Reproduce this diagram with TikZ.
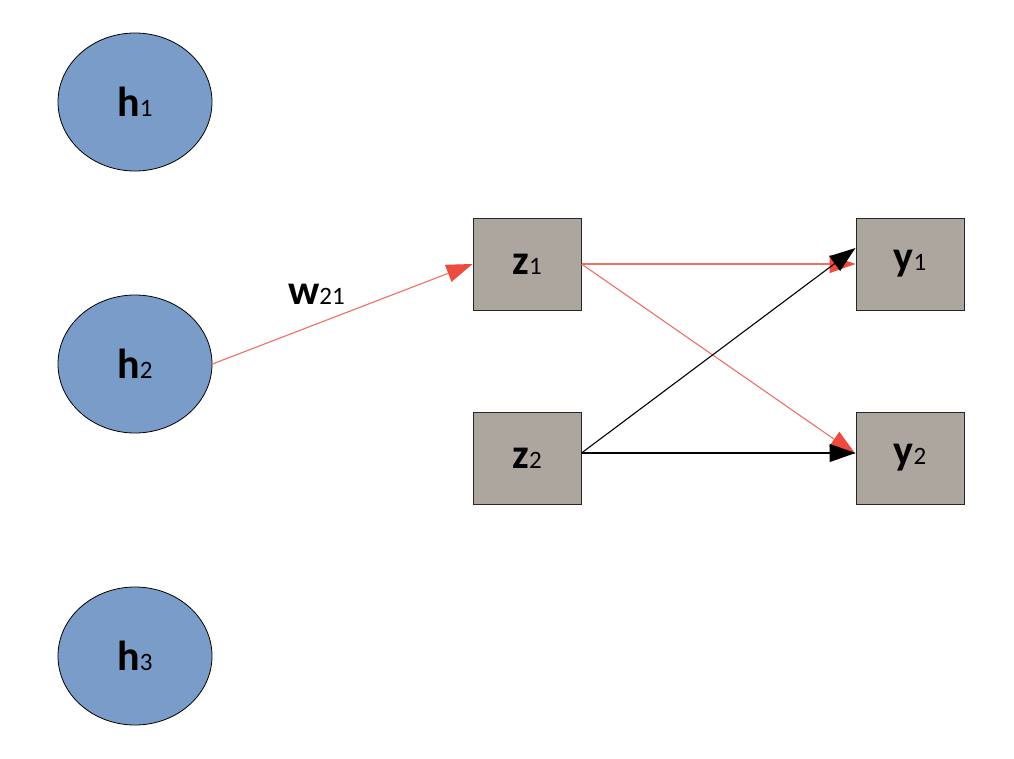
\documentclass[tikz,border=0pt]{standalone}
\usepackage{fontspec}
\setmainfont{Carlito}
\usetikzlibrary{arrows.meta,shapes.geometric}
\definecolor{hfill}{HTML}{7A9CC9}
\definecolor{boxfill}{HTML}{ACA69F}
\definecolor{wred}{HTML}{EE4A3E}
\tikzset{
  hnode/.style={ellipse,draw=black,line width=0.8pt,fill=hfill,minimum width=154pt,minimum height=138pt,inner sep=0pt},
  unit/.style={rectangle,draw=black!85,line width=1pt,fill=boxfill,minimum width=108pt,minimum height=92pt,inner sep=0pt},
  lbl/.style={font=\fontsize{42}{44}\selectfont\bfseries},
  wire/.style={line width=1.1pt,-{Triangle[length=26pt,width=18pt]}},
  redwire/.style={wire,draw=wred!80,-{Triangle[length=26pt,width=18pt,color=wred]}},
  blackwire/.style={wire,draw=black}
}
\newcommand{\sub}[1]{{\fontsize{25}{26}\selectfont\mdseries #1}}
\begin{document}
\begin{tikzpicture}[x=1pt,y=-1pt]
\useasboundingbox (0,0) rectangle (1014,758);
\node[hnode,lbl] (h1) at (135,102) {h\sub{1}};
\node[hnode,lbl] (h2) at (135,364) {h\sub{2}};
\node[hnode,lbl] (h3) at (135,656) {h\sub{3}};
\node[unit,lbl] (z1) at (527,264) {z\sub{1}};
\node[unit,lbl] (z2) at (527,458) {z\sub{2}};
\node[unit,lbl] (y1) at (910,264) {y\sub{1}};
\node[unit,lbl] (y2) at (910,458) {y\sub{2}};
\draw[redwire] (h2.east) -- (z1.west) node[pos=0.4,above=16pt,lbl,text=black] {w\sub{21}};
\draw[redwire] (z1.east) -- (y1.west);
\draw[redwire] (z1.east) -- ([yshift=4pt]y2.west);
\draw[blackwire] ([yshift=5pt]z2.east) -- ([yshift=16pt]y1.west);
\draw[blackwire] ([yshift=5pt]z2.east) -- ([yshift=5pt]y2.west);
\end{tikzpicture}
\end{document}
